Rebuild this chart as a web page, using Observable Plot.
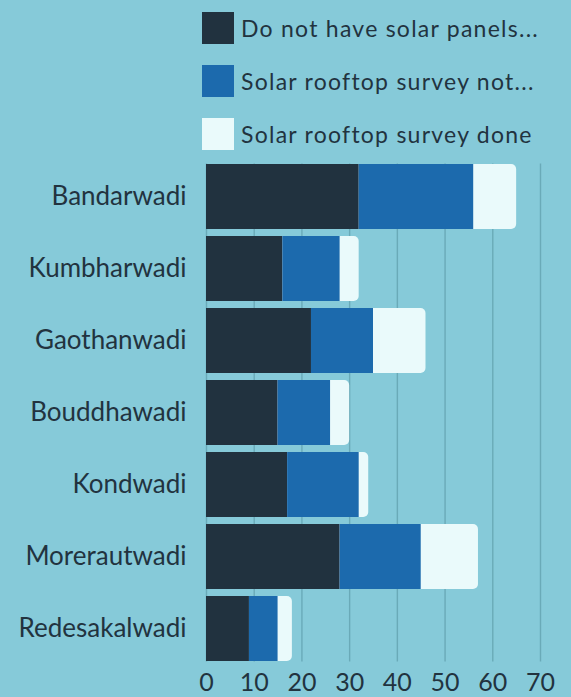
<!DOCTYPE html>
<html>
<head>
<meta charset="utf-8">
<script src="https://cdn.jsdelivr.net/npm/d3@7"></script>
<script src="https://cdn.jsdelivr.net/npm/@observablehq/plot@0.6"></script>
<style>
  html, body { margin: 0; padding: 0; background: #86cad9; }
  body { width: 571px; height: 697px; overflow: hidden; font-family: Lato, "Noto Sans", sans-serif; color: #22333f; }
  #legend { position: relative; height: 159px; }
  .item { position: absolute; left: 202px; display: flex; align-items: center; height: 32px; }
  .sw { width: 32px; height: 32px; margin-right: 7px; }
  .lab { font-size: 23px; letter-spacing: 1.25px; white-space: nowrap; }
  #chart svg { display: block; }
</style>
</head>
<body>
<div id="legend"></div>
<div id="chart"></div>
<script>
const villages = ["Bandarwadi", "Kumbharwadi", "Gaothanwadi", "Bouddhawadi", "Kondwadi", "Morerautwadi", "Redesakalwadi"];
const noPanels   = [32, 16, 22, 15, 17, 28, 9];
const surveyNot  = [24, 12, 13, 11, 15, 17, 6];
const surveyDone = [9, 4, 11, 4, 2, 12, 3];
const seriesNames = ["Do not have solar panels...", "Solar rooftop survey not...", "Solar rooftop survey done"];
const seriesColors = ["#21323f", "#1c6aad", "#eafafb"];
const xTicks = [0, 10, 20, 30, 40, 50, 60, 70];

// legend
const legend = document.getElementById("legend");
const rowTops = [12, 65, 118];
seriesNames.forEach((name, i) => {
  const it = document.createElement("div");
  it.className = "item";
  it.style.top = rowTops[i] + "px";
  const sw = document.createElement("div");
  sw.className = "sw";
  sw.style.background = seriesColors[i];
  const lab = document.createElement("span");
  lab.className = "lab";
  lab.textContent = name;
  it.appendChild(sw); it.appendChild(lab);
  legend.appendChild(it);
});

const rows = villages.map((v, i) => ({village: v, total: noPanels[i] + surveyNot[i] + surveyDone[i]}));
const stacked = [];
villages.forEach((v, i) => {
  stacked.push({village: v, series: seriesNames[0], value: noPanels[i]});
  stacked.push({village: v, series: seriesNames[1], value: surveyNot[i]});
});

const chart = Plot.plot({
  width: 571,
  height: 538,
  marginLeft: 206,
  marginRight: 31,
  marginTop: 1,
  marginBottom: 32,
  style: {background: "transparent", fontFamily: "Lato, 'Noto Sans', sans-serif", color: "#22333f", overflow: "visible"},
  x: {domain: [0, 70], label: null},
  y: {domain: villages, paddingInner: 0.1, paddingOuter: 0.05, label: null},
  color: {domain: seriesNames, range: seriesColors},
  marks: [
    Plot.ruleX(xTicks, {stroke: "#6aaab8", strokeWidth: 1.4, insetTop: 3.6, insetBottom: 3.6}),
    Plot.barX(rows, {y: "village", x: "total", fill: seriesColors[2], rx: 5}),
    Plot.barX(stacked, Plot.stackX({y: "village", x: "value", fill: "series", order: seriesNames})),
    Plot.axisX({ticks: xTicks, tickSize: 0, tickPadding: 8, fontSize: 25, label: null}),
    Plot.axisY({tickSize: 0, tickPadding: 20, fontSize: 26, label: null})
  ]
});
document.getElementById("chart").appendChild(chart);
</script>
</body>
</html>
